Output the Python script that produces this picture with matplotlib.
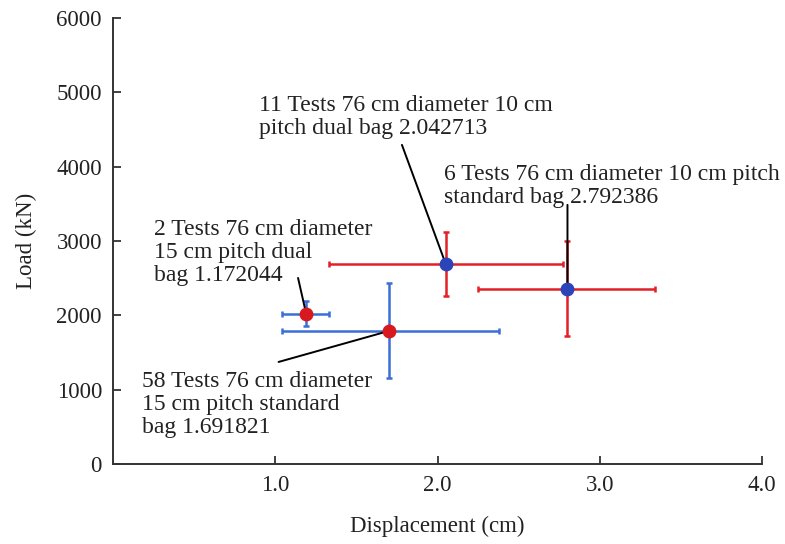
import matplotlib
matplotlib.use('Agg')
import matplotlib.pyplot as plt

plt.rcParams['font.family'] = ['Liberation Serif', 'DejaVu Serif']

# measured points (displacement in cm, load in kN)
disp = [1.19, 1.70, 2.05, 2.80]
load = [2020, 1790, 2690, 2355]
disp_lo = [1.04, 1.04, 1.33, 2.25]
disp_hi = [1.33, 2.38, 2.77, 3.34]
load_lo = [1850, 1160, 2260, 1725]
load_hi = [2190, 2440, 3115, 3005]
bar_colors = ['#3b6fd6', '#3b6fd6', '#e32027', '#e32027']
dot_colors = ['#d7191f', '#d7191f', '#2b45b8', '#2b45b8']

notes = ['2 Tests 76 cm diameter\n15 cm pitch dual\nbag 1.172044',
         '58 Tests 76 cm diameter\n15 cm pitch standard\nbag 1.691821',
         '11 Tests 76 cm diameter 10 cm\npitch dual bag 2.042713',
         '6 Tests 76 cm diameter 10 cm pitch\nstandard bag 2.792386']
note_xy = [(0.25, 3290), (0.18, 1245), (0.90, 4965), (2.04, 4030)]
line_start = [(1.14, 2503), (1.02, 1373), (1.78, 4293), (2.80, 3486)]


def main():
    fig = plt.figure(figsize=(7.85, 5.44), dpi=100)
    ax = fig.add_axes([0.144, 0.147, 0.827, 0.82])

    for i in range(len(disp)):
        ax.errorbar(disp[i], load[i],
                    xerr=[[disp[i] - disp_lo[i]], [disp_hi[i] - disp[i]]],
                    yerr=[[load[i] - load_lo[i]], [load_hi[i] - load[i]]],
                    fmt='none', ecolor=bar_colors[i], elinewidth=1.8,
                    capsize=2.5, capthick=1.8, zorder=2)
        ax.annotate('', xy=(disp[i], load[i]), xytext=line_start[i],
                    arrowprops=dict(arrowstyle='-', lw=1.4, color='black',
                                    shrinkA=0, shrinkB=0), zorder=3)
        ax.plot(disp[i], load[i], 'o', ms=9, mfc=dot_colors[i],
                mec=dot_colors[i], zorder=4)
        ax.text(note_xy[i][0], note_xy[i][1], notes[i], fontsize=17,
                va='top', ha='left', linespacing=1.12, color='#222222')

    ax.set_xlim(0, 4.0)
    ax.set_ylim(0, 6000)
    ax.set_xticks([1.0, 2.0, 3.0, 4.0])
    ax.set_xticklabels(['1.0', '2.0', '3.0', '4.0'])
    ax.set_yticks(range(0, 6001, 1000))
    ax.tick_params(direction='in', length=6, width=1.3, labelsize=16.5,
                   colors='#333333', labelcolor='#222222', pad=8)
    for side in ['top', 'right']:
        ax.spines[side].set_visible(False)
    for side in ['left', 'bottom']:
        ax.spines[side].set_linewidth(1.4)
        ax.spines[side].set_color('#333333')
    ax.set_xlabel('Displacement (cm)', fontsize=16.5, color='#222222', labelpad=14)
    ax.set_ylabel('Load (kN)', fontsize=16.5, color='#222222', labelpad=14)

    fig.savefig('out.png', dpi=100)


if __name__ == "__main__":
    main()
